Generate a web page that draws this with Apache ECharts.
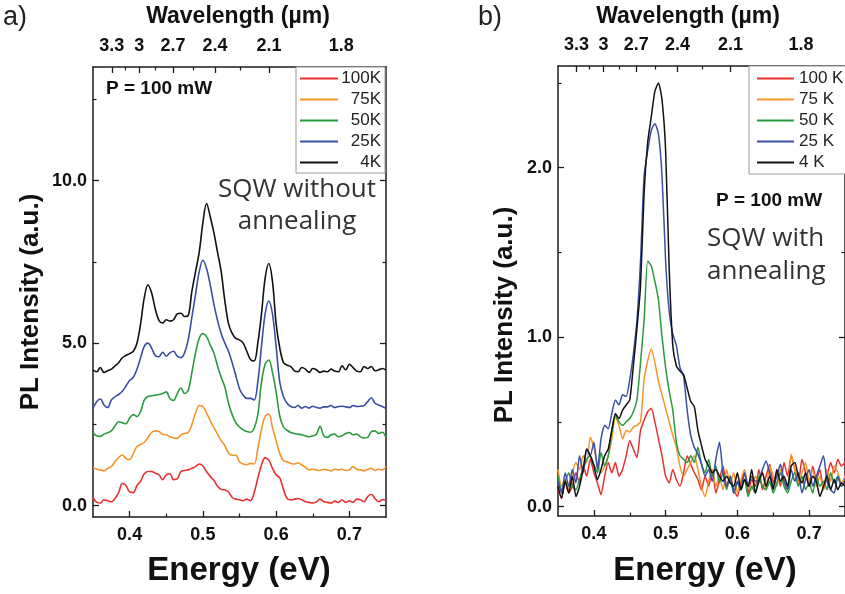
<!DOCTYPE html>
<html>
<head>
<meta charset="utf-8">
<script src="https://cdn.jsdelivr.net/npm/echarts@6/dist/echarts.min.js"></script>
<style>
html,body{margin:0;padding:0;background:#fff;}
#chart{width:845px;height:594px;}
</style>
</head>
<body>
<div id="chart"></div>
<script>
// ---------- data ----------
const energy = [0.35,0.355,0.36,0.365,0.37,0.375,0.38,0.385,0.39,0.395,
0.4,0.405,0.41,0.415,0.42,0.425,0.43,0.435,0.44,0.445,
0.45,0.455,0.46,0.465,0.47,0.475,0.48,0.485,0.49,0.495,
0.5,0.505,0.51,0.515,0.52,0.525,0.53,0.535,0.54,0.545,
0.55,0.555,0.56,0.565,0.57,0.575,0.58,0.585,0.59,0.595,
0.6,0.605,0.61,0.615,0.62,0.625,0.63,0.635,0.64,0.645,
0.65,0.655,0.66,0.665,0.67,0.675,0.68,0.685,0.69,0.695,
0.7,0.705,0.71,0.715,0.72,0.725,0.73,0.735,0.74,0.745,
0.75];

// Panel a) SQW without annealing (offset spectra)
const a100K = [0.25,0.10,0.08,0.18,0.15,0.12,0.22,0.40,0.68,0.62,
0.42,0.40,0.62,0.75,0.98,1.05,1.05,1.00,0.95,0.80,
0.95,0.98,0.80,0.82,1.05,1.08,1.10,1.15,1.20,1.28,
1.22,1.05,0.90,0.78,0.60,0.50,0.48,0.42,0.25,0.20,
0.18,0.15,0.20,0.15,0.40,0.85,1.25,1.47,1.40,1.15,
0.95,0.85,0.50,0.22,0.18,0.20,0.22,0.18,0.12,0.10,
0.08,0.12,0.20,0.12,0.10,0.08,0.14,0.10,0.18,0.10,
0.15,0.10,0.20,0.18,0.12,0.28,0.35,0.22,0.12,0.18,
0.18];
const a75K = [1.17,1.12,1.10,1.07,1.15,1.20,1.35,1.48,1.56,1.45,
1.42,1.60,1.82,1.88,1.95,2.10,2.25,2.30,2.28,2.20,
2.18,2.12,2.08,2.07,2.18,2.22,2.25,2.50,2.85,3.08,
3.05,2.85,2.62,2.40,2.20,2.00,1.85,1.62,1.55,1.55,
1.35,1.28,1.26,1.30,1.28,1.75,2.35,2.75,2.82,2.40,
2.00,1.60,1.38,1.35,1.30,1.28,1.32,1.25,1.18,1.10,
1.12,1.10,1.08,1.12,1.10,1.07,1.12,1.10,1.12,1.08,
1.10,1.20,1.12,1.10,1.07,1.12,1.15,1.08,1.12,1.10,
1.20];
const a50K = [2.24,2.15,2.13,2.20,2.24,2.30,2.45,2.58,2.55,2.52,
2.70,2.80,2.74,2.90,3.25,3.36,3.38,3.40,3.42,3.45,
3.50,3.30,3.24,3.45,3.62,3.45,3.55,4.10,4.70,5.15,
5.30,5.20,4.95,4.70,4.30,3.95,3.65,3.15,2.80,2.55,
2.42,2.33,2.28,2.26,2.38,2.80,3.80,4.35,4.48,4.10,
3.50,2.75,2.42,2.32,2.25,2.22,2.20,2.18,2.15,2.12,
2.15,2.20,2.44,2.15,2.10,2.18,2.20,2.12,2.15,2.22,
2.25,2.18,2.20,2.12,2.08,2.10,2.28,2.30,2.22,2.26,
2.10];
const a25K = [3.00,3.20,3.28,3.10,3.02,3.25,3.35,3.42,3.52,3.68,
3.85,3.95,4.20,4.55,4.90,5.00,4.85,4.62,4.58,4.72,
4.60,4.70,4.75,4.60,4.55,4.70,5.10,5.80,6.50,7.20,
7.55,7.30,6.80,6.20,5.70,5.30,5.00,4.75,4.40,4.00,
3.60,3.40,3.30,3.30,3.25,3.80,4.90,5.90,6.30,5.90,
4.90,3.80,3.35,3.15,3.05,3.02,3.08,3.00,3.05,3.00,
3.06,3.02,3.00,3.04,3.04,3.08,3.02,3.05,3.06,3.04,
3.02,3.08,3.05,3.06,3.08,3.20,3.32,3.15,3.10,3.05,
3.00];
const a4K = [4.17,4.12,4.25,4.10,4.15,4.20,4.30,4.40,4.55,4.62,
4.68,4.75,5.00,5.60,6.40,6.80,6.55,6.05,5.70,5.62,
5.72,5.68,5.72,5.90,5.92,5.82,5.85,6.60,7.20,7.80,
8.70,9.30,8.90,8.40,7.80,7.20,6.30,5.60,5.30,5.15,
5.10,5.00,4.75,4.50,4.45,5.00,5.90,7.00,7.45,6.90,
5.60,4.85,4.40,4.32,4.28,4.15,4.12,4.25,4.20,4.10,
4.22,4.18,4.10,4.14,4.12,4.20,4.14,4.12,4.30,4.18,
4.35,4.25,4.14,4.12,4.28,4.22,4.28,4.15,4.18,4.22,
4.17];

// Panel b) SQW with annealing
const b100K = [0.10,0.05,0.15,0.08,0.12,0.20,0.14,0.24,0.18,0.28,
0.20,0.14,0.07,0.18,0.26,0.20,0.26,0.18,0.22,0.30,
0.39,0.34,0.29,0.45,0.51,0.56,0.58,0.50,0.40,0.30,
0.18,0.14,0.22,0.16,0.12,0.20,0.30,0.25,0.20,0.16,
0.10,0.18,0.12,0.22,0.08,0.16,0.24,0.12,0.18,0.10,
0.06,0.14,0.20,0.08,0.16,0.12,0.22,0.10,0.18,0.25,
0.14,0.20,0.12,0.26,0.18,0.30,0.22,0.14,0.28,0.20,
0.12,0.24,0.16,0.22,0.10,0.18,0.26,0.20,0.28,0.24,
0.26];
const b75K = [0.22,0.12,0.16,0.10,0.20,0.26,0.22,0.30,0.26,0.41,
0.35,0.25,0.20,0.24,0.30,0.40,0.53,0.48,0.40,0.45,
0.44,0.47,0.48,0.50,0.75,0.86,0.93,0.85,0.74,0.66,
0.58,0.50,0.42,0.35,0.24,0.18,0.22,0.26,0.30,0.22,
0.12,0.06,0.15,0.22,0.12,0.18,0.10,0.22,0.14,0.20,
0.08,0.16,0.22,0.12,0.10,0.18,0.14,0.20,0.10,0.24,
0.18,0.12,0.22,0.16,0.10,0.31,0.22,0.14,0.20,0.26,
0.15,0.22,0.12,0.18,0.10,0.22,0.15,0.24,0.20,0.14,
0.18];
const b50K = [0.18,0.10,0.15,0.20,0.12,0.10,0.16,0.22,0.28,0.30,
0.25,0.20,0.32,0.24,0.30,0.45,0.54,0.50,0.48,0.50,
0.52,0.56,0.63,0.85,1.10,1.45,1.42,1.33,1.22,1.00,
0.82,0.68,0.57,0.38,0.30,0.28,0.26,0.30,0.26,0.35,
0.25,0.20,0.28,0.18,0.24,0.14,0.20,0.10,0.18,0.08,
0.14,0.10,0.16,0.06,0.12,0.08,0.18,0.12,0.10,0.15,
0.08,0.14,0.20,0.12,0.08,0.15,0.20,0.12,0.18,0.10,
0.14,0.08,0.18,0.12,0.15,0.10,0.20,0.14,0.18,0.12,
0.16];
const b25K = [0.15,0.08,0.20,0.12,0.22,0.14,0.30,0.20,0.34,0.30,
0.38,0.22,0.40,0.48,0.46,0.55,0.63,0.60,0.66,0.65,
0.75,0.90,1.10,1.45,1.95,2.10,2.22,2.26,2.20,1.95,
1.45,1.15,1.02,0.95,0.82,0.77,0.57,0.42,0.35,0.31,
0.25,0.18,0.22,0.15,0.28,0.38,0.20,0.12,0.18,0.08,
0.15,0.10,0.20,0.12,0.18,0.15,0.16,0.22,0.27,0.20,
0.12,0.18,0.25,0.15,0.10,0.22,0.15,0.20,0.08,0.16,
0.22,0.12,0.18,0.24,0.30,0.15,0.10,0.08,0.18,0.12,
0.15];
const b4K = [0.12,0.05,0.15,0.08,0.18,0.06,0.12,0.22,0.34,0.30,
0.24,0.16,0.22,0.30,0.34,0.45,0.55,0.52,0.57,0.60,
0.63,0.83,1.05,1.30,1.85,2.15,2.30,2.45,2.50,2.40,
2.10,1.40,0.95,0.83,0.80,0.78,0.70,0.62,0.59,0.45,
0.36,0.28,0.24,0.20,0.22,0.18,0.15,0.18,0.14,0.12,
0.20,0.10,0.16,0.12,0.22,0.08,0.15,0.20,0.12,0.18,
0.10,0.22,0.15,0.18,0.12,0.24,0.26,0.18,0.14,0.20,
0.12,0.18,0.15,0.06,0.12,0.18,0.10,0.16,0.10,0.14,
0.12];

const namesA = ['100K','75K','50K','25K','4K'];
const namesB = ['100 K','75 K','50 K','25 K','4 K'];
const colors = ['#e8312f','#f7932b','#2b9a3e','#3b4ea6','#111111'];

const energyMajor = [0.4,0.5,0.6,0.7];
const energyMinor = [0.45,0.55,0.65];
const wlMajor = [3.3,3.0,2.7,2.4,2.1,1.8];      // µm
const wlMinor = [3.15,2.85,2.55,2.25,1.95];      // µm
const yMajorA = [0,5,10], yMinorA = [2.5,7.5,12.5];
const yMajorB = [0,1,2],  yMinorB = [0.5,1.5,2.5];

// ---------- build ----------
const HC = 1.2398; // eV·µm
const toE = wl => HC / wl;
const FONT = '"Liberation Sans", Arial, Helvetica, sans-serif';
const AX = '#1c1c1c';

function xAxes(g) {
  const base = {type:'value', gridIndex:g, min:0.35, max:0.75, splitLine:{show:false}};
  const line = {show:true, onZero:false, lineStyle:{color:AX, width:1.5}};
  const noLine = {show:false, onZero:false};
  const lab = {fontFamily:FONT, fontSize:18, fontWeight:'bold', color:'#111'};
  return [
    Object.assign({}, base, {position:'bottom', axisLine:line,
      axisTick:{inside:true, length:6, customValues:energyMajor, lineStyle:{color:AX, width:1.3}},
      axisLabel:Object.assign({customValues:energyMajor, margin:9, formatter:v=>v.toFixed(1)}, lab)}),
    Object.assign({}, base, {position:'bottom', axisLine:noLine,
      axisTick:{inside:true, length:3.5, customValues:energyMinor, lineStyle:{color:AX, width:1.2}},
      axisLabel:{show:false}}),
    Object.assign({}, base, {position:'top', axisLine:line,
      axisTick:{inside:true, length:6, customValues:wlMajor.map(toE), lineStyle:{color:AX, width:1.3}},
      axisLabel:Object.assign({customValues:wlMajor.map(toE), margin:12,
        formatter:v=>String(Math.round(HC/v*10)/10)}, lab)}),
    Object.assign({}, base, {position:'top', axisLine:noLine,
      axisTick:{inside:true, length:3.5, customValues:wlMinor.map(toE), lineStyle:{color:AX, width:1.2}},
      axisLabel:{show:false}})
  ];
}
function yAxes(g, min, max, majors, minors) {
  const base = {type:'value', gridIndex:g, min:min, max:max, splitLine:{show:false}};
  const line = {show:true, onZero:false, lineStyle:{color:AX, width:1.5}};
  const noLine = {show:false, onZero:false};
  return [
    Object.assign({}, base, {position:'left', axisLine:line,
      axisTick:{inside:true, length:6, customValues:majors, lineStyle:{color:AX, width:1.3}},
      axisLabel:{customValues:majors, margin:6, formatter:v=>v.toFixed(1),
        fontFamily:FONT, fontSize:18, fontWeight:'bold', color:'#111'}}),
    Object.assign({}, base, {position:'left', axisLine:noLine,
      axisTick:{inside:true, length:3.5, customValues:minors, lineStyle:{color:AX, width:1.2}},
      axisLabel:{show:false}}),
    Object.assign({}, base, {position:'right', axisLine:line,
      axisTick:{inside:true, length:6, customValues:majors, lineStyle:{color:AX, width:1.3}},
      axisLabel:{show:false}}),
    Object.assign({}, base, {position:'right', axisLine:noLine,
      axisTick:{inside:true, length:3.5, customValues:minors, lineStyle:{color:AX, width:1.2}},
      axisLabel:{show:false}})
  ];
}

const pair = arr => energy.map((e, i) => [e, arr[i]]);
const seriesA = [a100K, a75K, a50K, a25K, a4K].map((d, i) => ({
  name:namesA[i], type:'line', xAxisIndex:0, yAxisIndex:0, data:pair(d),
  showSymbol:false, smooth:0.35, lineStyle:{width:1.6, color:colors[i]}, itemStyle:{color:colors[i]},
  animation:false, z:2+i
}));
const seriesB = [b100K, b75K, b50K, b25K, b4K].map((d, i) => ({
  name:namesB[i], type:'line', xAxisIndex:4, yAxisIndex:4, data:pair(d),
  showSymbol:false, smooth:0.2, lineStyle:{width:1.5, color:colors[i]}, itemStyle:{color:colors[i]},
  animation:false, z:2+i
}));

function txt(x, y, s, size, weight, opts) {
  return Object.assign({type:'text', x:x, y:y, silent:true,
    style:Object.assign({text:s, fontFamily:FONT, fontSize:size, fontWeight:weight, fill:'#111',
      align:'left', verticalAlign:'middle'}, (opts && opts.style) || {})},
    opts ? {rotation: opts.rotation || 0} : {});
}
const OPEN = '"Open Sans", "Noto Sans", sans-serif';

const option = {
  animation:false,
  backgroundColor:'#fff',
  grid:[
    {left:93, top:67, width:293, height:450},
    {left:558, top:66, width:293, height:450}
  ],
  xAxis: xAxes(0).concat(xAxes(1)),
  yAxis: yAxes(0, -0.35, 13.5, yMajorA, yMinorA).concat(yAxes(1, -0.055, 2.6, yMajorB, yMinorB)),
  legend:[
    {data:namesA, left:296, top:67, orient:'vertical', icon:'rect', itemWidth:38, itemHeight:2,
     itemGap:4, padding:[3,4,2,4], borderColor:'#9a9a9a', borderWidth:1, backgroundColor:'#fff',
     selectedMode:false,
     formatter:n=>'{r|'+n+'}',
     textStyle:{fontFamily:FONT, fontSize:17, color:'#222', padding:[0,0,0,0],
       rich:{r:{width:38, align:'right', fontFamily:FONT, fontSize:17, color:'#222'}}}},
    {data:namesB, left:749, top:66, orient:'vertical', icon:'rect', itemWidth:37, itemHeight:2,
     itemGap:4, padding:[4,40,3,8], borderColor:'#9a9a9a', borderWidth:1, backgroundColor:'#fff',
     selectedMode:false,
     textStyle:{fontFamily:FONT, fontSize:17, color:'#222'}}
  ],
  graphic:[
    txt(3, 18, 'a)', 27, 'normal', {style:{fill:'#222'}}),
    txt(478, 18, 'b)', 27, 'normal', {style:{fill:'#222'}}),
    txt(238, 17, 'Wavelength (µm)', 23, 'bold', {style:{align:'center'}}),
    txt(688, 17, 'Wavelength (µm)', 23, 'bold', {style:{align:'center'}}),
    txt(239, 571, 'Energy (eV)', 33, 'bold', {style:{align:'center'}}),
    txt(705, 571, 'Energy (eV)', 33, 'bold', {style:{align:'center'}}),
    txt(31, 302, 'PL Intensity (a.u.)', 26, 'bold', {rotation:Math.PI/2, style:{align:'center'}}),
    txt(505, 315, 'PL Intensity (a.u.)', 26, 'bold', {rotation:Math.PI/2, style:{align:'center'}}),
    txt(106, 89, 'P = 100 mW', 19, 'bold'),
    txt(716, 201, 'P = 100 mW', 19, 'bold'),
    txt(297, 190, 'SQW without', 26, 'normal', {style:{align:'center', fontFamily:OPEN, fill:'#333'}}),
    txt(297, 222, 'annealing', 26, 'normal', {style:{align:'center', fontFamily:OPEN, fill:'#333'}}),
    txt(707, 239, 'SQW with', 26, 'normal', {style:{fontFamily:OPEN, fill:'#333'}}),
    txt(707, 272, 'annealing', 26, 'normal', {style:{fontFamily:OPEN, fill:'#333'}})
  ],
  series: seriesA.concat(seriesB)
};

const chart = echarts.init(document.getElementById('chart'), null, {renderer:'canvas'});
chart.setOption(option);
</script>
</body>
</html>
